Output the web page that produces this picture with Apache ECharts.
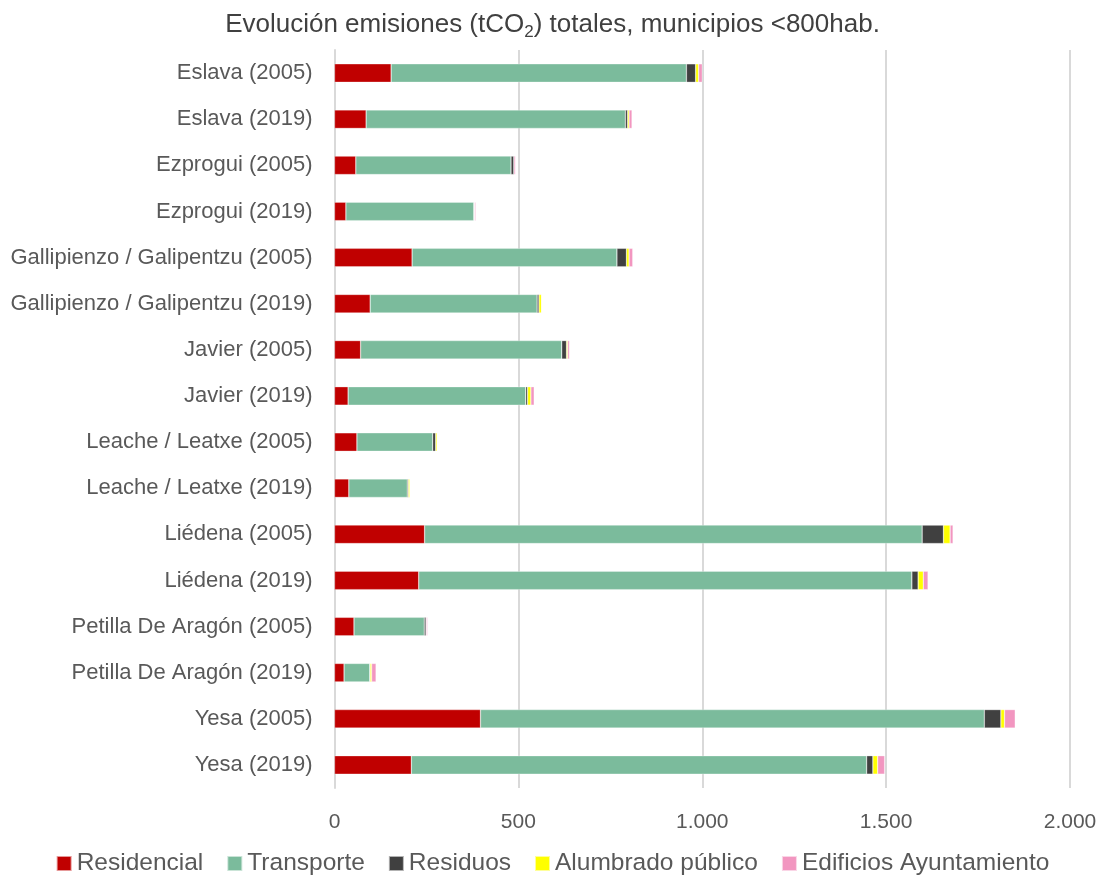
<!DOCTYPE html>
<html><head><meta charset="utf-8">
<script src="https://cdn.jsdelivr.net/npm/echarts@6/dist/echarts.min.js"></script>
<style>html,body{margin:0;padding:0;background:#fff}#c{width:1105px;height:881px}</style>
</head><body><div id="c"></div>
<script>
const categories = ["Eslava (2005)","Eslava (2019)","Ezprogui (2005)","Ezprogui (2019)","Gallipienzo / Galipentzu (2005)","Gallipienzo / Galipentzu (2019)","Javier (2005)","Javier (2019)","Leache / Leatxe (2005)","Leache / Leatxe (2019)","Liédena (2005)","Liédena (2019)","Petilla De Aragón (2005)","Petilla De Aragón (2019)","Yesa (2005)","Yesa (2019)"];
const residencial = [154,86,58,31,211,97,71,37,61,39,245,229,53,26,397,209];
const transporte  = [803,705,422,348,557,454,547,483,206,159,1353,1341,191,70,1370,1238];
const residuos    = [25,6,8,1,26,5,13,5,8,3,58,17,5,1,45,17];
const alumbrado   = [8,4,0,1,7,7,3,9,4,4,18,14,1,4,10,13];
const edificios   = [10,8,4,3,10,0,5,9,1,0,8,13,3,12,29,19];
const xTicks = [0,500,1000,1500,2000];

const names = ["Residencial","Transporte","Residuos","Alumbrado público","Edificios Ayuntamiento"];
const colors = ["#C00000","#7BBB9C","#404040","#FFFF00","#F296C0"];
const dataSets = [residencial,transporte,residuos,alumbrado,edificios];
const font = "'Liberation Sans',sans-serif";

const chart = echarts.init(document.getElementById('c'));
chart.setOption({
  animation:false,
  textStyle:{fontFamily:font},
  title:{
    text:'{a|Evolución emisiones (tCO}{s|2}{a|) totales, municipios <800hab.}',
    left:'center', top:3,
    textStyle:{fontWeight:'normal',rich:{
      a:{fontFamily:font,fontSize:26,fontWeight:'normal',color:'#404040',lineHeight:33},
      s:{fontFamily:font,fontSize:17,fontWeight:'normal',color:'#404040',verticalAlign:'bottom',padding:[14,0,0,0]}
    }}
  },
  legend:{
    bottom:0, left:'center', itemWidth:15, itemHeight:15, itemGap:23,
    icon:'rect',
    textStyle:{fontFamily:font,fontSize:24.5,color:'#595959',padding:[0,0,0,0]},
    data:names
  },
  grid:{left:334.5, right:35, top:50, bottom:93, containLabel:false},
  xAxis:{
    type:'value', min:0, max:2000, interval:500,
    axisLine:{show:false}, axisTick:{show:false},
    splitLine:{lineStyle:{color:'#D9D9D9',width:2}},
    axisLabel:{fontFamily:font,fontSize:21,color:'#595959',margin:24,
      formatter:v=>v.toString().replace(/\B(?=(\d{3})+(?!\d))/g,'.')}
  },
  yAxis:{
    type:'category', data:categories, inverse:true,
    axisLine:{show:true,lineStyle:{color:'#D9D9D9',width:2}}, axisTick:{show:false},
    axisLabel:{fontFamily:font,fontSize:22,color:'#595959',margin:22}
  },
  series: names.map((n,i)=>({
    name:n, type:'bar', stack:'t', data:dataSets[i], barWidth:'40%',
    itemStyle:{color:colors[i],borderColor:'rgba(255,255,255,0.6)',borderWidth:0.5}
  }))
});
</script></body></html>
